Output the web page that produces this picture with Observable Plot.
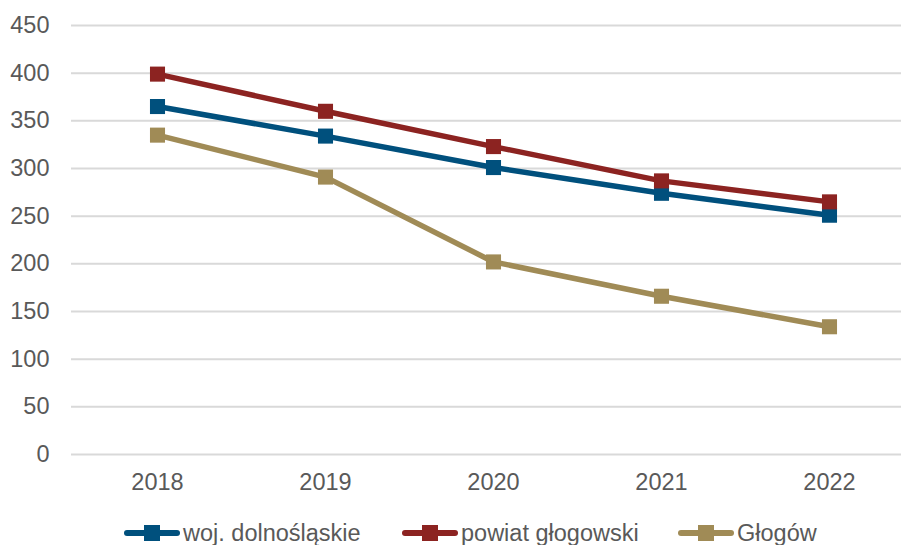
<!DOCTYPE html>
<html>
<head>
<meta charset="utf-8">
<script src="https://cdn.jsdelivr.net/npm/d3@7"></script>
<script src="https://cdn.jsdelivr.net/npm/@observablehq/plot@0.6"></script>
<style>
  body { margin: 0; background: #fff; font-family: "Liberation Sans", Arial, sans-serif; }
  #wrap { position: relative; width: 901px; height: 545px; overflow: hidden; }
  .item { position: absolute; top: 519px; height: 28px; display: flex; align-items: center; font-size: 23.5px; color: #595959; white-space: nowrap; }
  .item svg { margin-right: 3px; }
</style>
</head>
<body>
<div id="wrap"><div id="chart"></div></div>
<script>
const years = ["2018", "2019", "2020", "2021", "2022"];
const seriesNames = ["woj. dolnośląskie", "powiat głogowski", "Głogów"];
const wojValues = [365, 334, 301, 274, 251];
const powiatValues = [399, 360, 323, 287, 265];
const glogowValues = [335, 291, 202, 166, 134];
const yTicks = [0, 50, 100, 150, 200, 250, 300, 350, 400, 450];
const colors = ["#00507D", "#8C2321", "#A08B56"];

const allValues = [wojValues, powiatValues, glogowValues];
const data = [];
seriesNames.forEach((s, i) => years.forEach((y, j) => data.push({series: s, year: y, value: allValues[i][j]})));

const chart = Plot.plot({
  width: 901,
  height: 500,
  marginLeft: 71,
  marginRight: 0,
  marginTop: 25,
  marginBottom: 46,
  style: {fontFamily: '"Liberation Sans", Arial, sans-serif', fontSize: "23.5px", color: "#595959", background: "#fff"},
  x: {type: "point", domain: years, range: [155, 830], padding: 0, label: null},
  y: {domain: [0, 450], ticks: yTicks, label: null},
  color: {domain: seriesNames, range: colors},
  marks: [
    Plot.ruleY(yTicks, {stroke: "#d9d9d9", strokeWidth: 2}),
    Plot.axisY({ticks: yTicks, tickSize: 0, tickPadding: 22, fontSize: 23.5, fill: "#595959", label: null}),
    Plot.axisX({tickSize: 0, tickPadding: 19, fontSize: 23.5, fill: "#595959", label: null}),
    Plot.line(data, {x: "year", y: "value", z: "series", stroke: "series", strokeWidth: 5.5}),
    Plot.dot(data, {x: "year", y: "value", fill: "series", symbol: "square", r: 8.5})
  ]
});
document.getElementById("chart").appendChild(chart);

const wrap = document.getElementById("wrap");
const legendLeft = [124, 402, 678];
seriesNames.forEach((s, i) => {
  const item = document.createElement("div");
  item.className = "item";
  item.style.left = legendLeft[i] + "px";
  item.innerHTML = `<svg width="56" height="18"><line x1="3" x2="53" y1="9" y2="9" stroke="${colors[i]}" stroke-width="6" stroke-linecap="round"/><rect x="20" y="1" width="16" height="16" fill="${colors[i]}"/></svg><span>${s}</span>`;
  wrap.appendChild(item);
});
</script>
</body>
</html>
